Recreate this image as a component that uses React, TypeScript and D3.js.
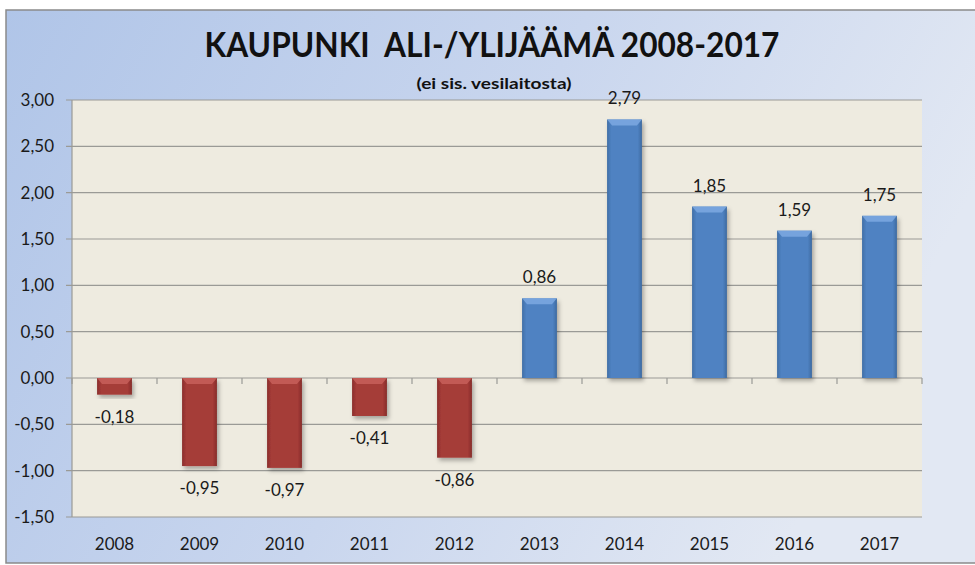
import React from "react";
import * as d3 from "d3";

const years = ["2008", "2009", "2010", "2011", "2012", "2013", "2014", "2015", "2016", "2017"];
const values = [-0.18, -0.95, -0.97, -0.41, -0.86, 0.86, 2.79, 1.85, 1.59, 1.75];
const yTicks = [-1.5, -1.0, -0.5, 0, 0.5, 1.0, 1.5, 2.0, 2.5, 3.0];
const title = "KAUPUNKI  ALI-/YLIJÄÄMÄ 2008-2017";
const subtitle = "(ei sis. vesilaitosta)";

const W = 975;
const H = 565;
const plot = { left: 72, right: 922, top: 100, bottom: 517 };

const fmt = (v: number) => d3.format(".2f")(v).replace(".", ",").replace("−", "-");

export default function App() {
  const x = d3.scaleBand<string>().domain(years).range([plot.left, plot.right]).paddingInner(0.59).paddingOuter(0.295);
  const xb = d3.scaleBand<string>().domain(years).range([plot.left, plot.right]);
  const y = d3.scaleLinear().domain([-1.5, 3]).range([plot.bottom, plot.top]);
  const y0 = y(0);
  const font = "Lato, 'Open Sans', sans-serif";
  const fs = 17;

  return (
    <svg width={W} height={H} style={{ position: "absolute", left: 0, top: 0 }}>
      <defs>
        <linearGradient id="bg" x1="0" y1="0" x2="1" y2="0.3">
          <stop offset="0" stopColor="#b0c5e8" />
          <stop offset="0.55" stopColor="#c9d6ee" />
          <stop offset="1" stopColor="#e2e8f3" />
        </linearGradient>
        <linearGradient id="blueBar" x1="0" y1="0" x2="1" y2="0">
          <stop offset="0" stopColor="#3f6ea6" />
          <stop offset="0.12" stopColor="#4f82c2" />
          <stop offset="0.88" stopColor="#4f82c2" />
          <stop offset="1" stopColor="#3d6aa0" />
        </linearGradient>
        <linearGradient id="redBar" x1="0" y1="0" x2="1" y2="0">
          <stop offset="0" stopColor="#8a2e2b" />
          <stop offset="0.12" stopColor="#a53c39" />
          <stop offset="0.88" stopColor="#a53c39" />
          <stop offset="1" stopColor="#852c29" />
        </linearGradient>
        <filter id="shadow" x="-30%" y="-10%" width="160%" height="130%">
          <feDropShadow dx="2" dy="3" stdDeviation="2" floodColor="#000" floodOpacity="0.3" />
        </filter>
      </defs>
      <rect x={6} y={10} width={W} height={553} fill="url(#bg)" stroke="#8a8a8a" strokeWidth={1.5} />
      <rect x={plot.left} y={plot.top} width={plot.right - plot.left} height={plot.bottom - plot.top} fill="#eeebe0" />
      {yTicks.map((t) => (
        <g key={t}>
          <line x1={plot.left - 6} x2={plot.right} y1={y(t)} y2={y(t)} stroke="#9a9a96" strokeWidth={1.2} />
          <text x={54} y={y(t)} dy="0.35em" textAnchor="end" fontFamily={font} fontSize={fs} fill="#1a1a1a">
            {fmt(t)}
          </text>
        </g>
      ))}
      <line x1={plot.left} x2={plot.left} y1={plot.top} y2={plot.bottom} stroke="#9a9a96" strokeWidth={1.2} />
      {years.map((yr) => (
        <line key={"t" + yr} x1={xb(yr)!} x2={xb(yr)!} y1={y0} y2={y0 + 6} stroke="#9a9a96" strokeWidth={1.2} />
      ))}
      <line x1={plot.right} x2={plot.right} y1={y0} y2={y0 + 6} stroke="#9a9a96" strokeWidth={1.2} />
      {years.map((yr, i) => {
        const v = values[i];
        const bx = x(yr)!;
        const bw = x.bandwidth();
        const top = Math.min(y(v), y0);
        const h = Math.abs(y(v) - y0);
        const pos = v >= 0;
        const bevel = Math.min(6, h / 2);
        return (
          <g key={yr}>
            <rect x={bx} y={top} width={bw} height={h} fill={pos ? "url(#blueBar)" : "url(#redBar)"} filter="url(#shadow)" />
            <path
              d={`M${bx},${top}L${bx + bw},${top}L${bx + bw - 5},${top + bevel}L${bx + 5},${top + bevel}Z`}
              fill={pos ? "#7fabe3" : "#c9625d"}
              opacity={0.8}
            />
            <text
              x={bx + bw / 2}
              y={pos ? y(v) - 21 : y(v) + 22}
              dy="0.35em"
              textAnchor="middle"
              fontFamily={font}
              fontSize={fs}
              fill="#1a1a1a"
            >
              {fmt(v)}
            </text>
          </g>
        );
      })}
      {years.map((yr) => (
        <text key={"l" + yr} x={xb(yr)! + xb.bandwidth() / 2} y={544} dy="0.35em" textAnchor="middle" fontFamily={font} fontSize={fs} fill="#1a1a1a">
          {yr}
        </text>
      ))}
      <text x={492} y={57} textAnchor="middle" fontFamily={font} fontWeight="bold" fontSize={35} fill="#111" textLength={575} lengthAdjust="spacingAndGlyphs" style={{ whiteSpace: "pre" }}>
        {title}
      </text>
      <text x={494} y={89} textAnchor="middle" fontFamily={font} fontWeight="bold" fontSize={16} fill="#111" textLength={155} lengthAdjust="spacingAndGlyphs">
        {subtitle}
      </text>
    </svg>
  );
}
